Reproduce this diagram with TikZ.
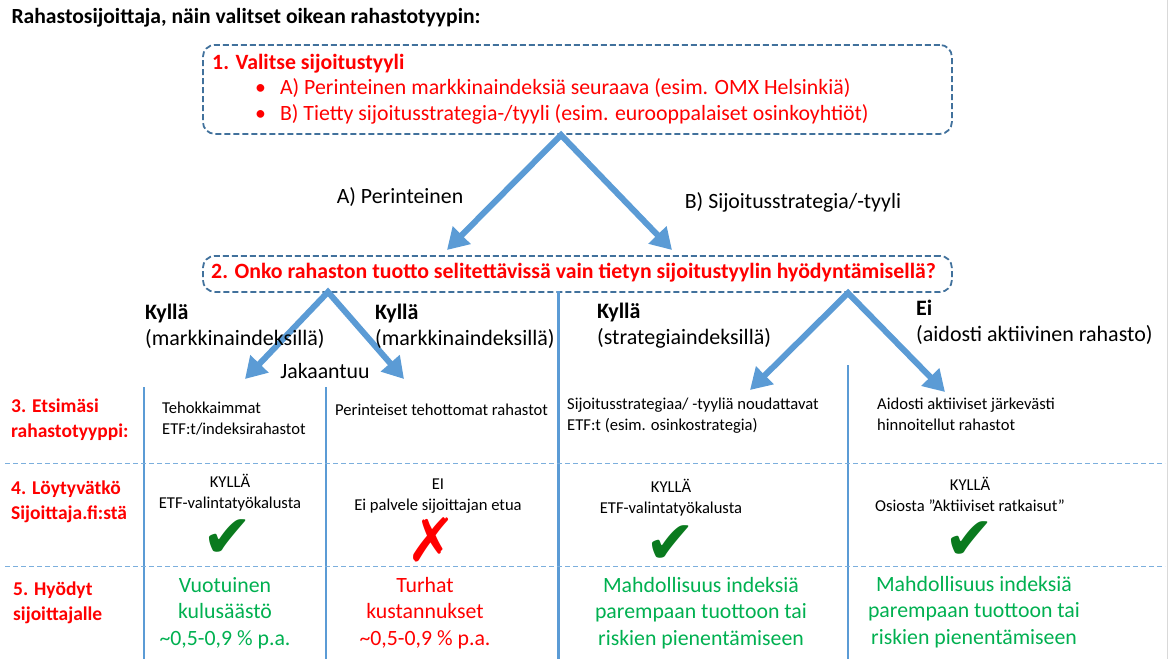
\documentclass[tikz,border=0pt]{standalone}
\usepackage{fontspec}
\setmainfont{Carlito}
\newfontfamily\symfont{DejaVu Sans}
\usepackage{tikz}
\usetikzlibrary{shapes, arrows.meta, positioning}
\definecolor{boxblue}{HTML}{41719C}
\definecolor{arrowblue}{HTML}{5B9BD5}
\definecolor{titlered}{HTML}{FF0000}
\definecolor{gaingreen}{HTML}{00B050}
\definecolor{checkgreen}{HTML}{0A7A1E}

\begin{document}
\begin{tikzpicture}[x=1pt, y=-1pt]
        \tikzstyle{stepbox} = [draw=boxblue, dash pattern=on 6pt off 3pt, line width=1.8pt, rounded corners=12pt, anchor=north west, minimum width=749pt]
        \tikzstyle{heading} = [anchor=west, inner sep=0pt, text=titlered, font=\bfseries\fontsize{21.8}{23}\selectfont]
        \tikzstyle{bodytxt} = [anchor=west, inner sep=0pt, font=\fontsize{21.8}{23}\selectfont]
        \tikzstyle{answer} = [anchor=west, inner sep=0pt, align=left, font=\fontsize{22}{26}\selectfont]
        \tikzstyle{rowlabel} = [anchor=west, inner sep=0pt, align=left, text=titlered, font=\bfseries\fontsize{19.5}{25}\selectfont]
        \tikzstyle{celltxt} = [inner sep=0pt, font=\fontsize{16.6}{21}\selectfont]
        \tikzstyle{gain} = [inner sep=0pt, align=center, font=\fontsize{21.8}{26.5}\selectfont]
        \tikzstyle{tickmark} = [inner sep=0pt, font=\symfont\fontsize{60}{60}\selectfont]
        \tikzstyle{bigarrow} = [line width=6pt, draw=arrowblue, line join=miter, {Triangle[width=24pt,length=21pt]}-{Triangle[width=24pt,length=21pt]}]
        \tikzstyle{colline} = [draw=arrowblue, line width=1.5pt]
        \tikzstyle{rowline} = [draw=arrowblue!80, line width=1pt, dash pattern=on 5pt off 3pt]

        \useasboundingbox (0,0) rectangle (1173,659);
        \draw[gray!30, line width=1pt] (1167,0) -- (1167,659);

        \node (title) [anchor=west, font=\bfseries\fontsize{21.6}{22}\selectfont] at (8,18) {Rahastosijoittaja, näin valitset oikean rahastotyypin:};

        % step 1
        \node (step1) [stepbox, minimum height=89pt] at (202,44) {};
        \node (step1head) [heading] at (212,64) {1. Valitse sijoitustyyli};
        \node (optA) [bodytxt, text=titlered] at (255,88) {•\hspace{14pt}A) Perinteinen markkinaindeksiä seuraava (esim. OMX Helsinkiä)};
        \node (optB) [bodytxt, text=titlered] at (255,114) {•\hspace{14pt}B) Tietty sijoitusstrategia-/tyyli (esim. eurooppalaiset osinkoyhtiöt)};

        \coordinate (split1) at (561,135);
        \coordinate (toA) at (447,250);
        \coordinate (toB) at (672,250);
        \draw[bigarrow] (toA) -- (split1) -- (toB);
        \node (labA) [bodytxt, anchor=center] at (400,197) {A) Perinteinen};
        \node (labB) [bodytxt, anchor=center] at (793,202) {B) Sijoitusstrategia/-tyyli};

        % step 2
        \node (step2) [stepbox, minimum height=36pt] at (202,255) {};
        \node (step2head) [heading] at (211,273) {2. Onko rahaston tuotto selitettävissä vain tietyn sijoitustyylin hyödyntämisellä?};

        \coordinate (split2) at (328,292);
        \coordinate (toEff) at (245,379);
        \coordinate (toOld) at (404,379);
        \draw[bigarrow] (toEff) -- (split2) -- (toOld);
        \coordinate (split3) at (848,293);
        \coordinate (toStrat) at (750,390);
        \coordinate (toActive) at (945,392);
        \draw[bigarrow] (toStrat) -- (split3) -- (toActive);

        \node (yes1) [answer] at (145,326) {\textbf{Kyllä}\\(markkinaindeksillä)};
        \node (yes2) [answer] at (375,326) {\textbf{Kyllä}\\(markkinaindeksillä)};
        \node (split) [bodytxt, anchor=center] at (325,371) {Jakaantuu};
        \node (yes3) [answer] at (597,326) {\textbf{Kyllä}\\(strategiaindeksillä)};
        \node (no) [answer] at (916,322) {\textbf{Ei}\\(aidosti aktiivinen rahasto)};

        % grid
        \coordinate (midtop) at (558,291);
        \coordinate (midbot) at (558,659);
        \draw[draw=arrowblue, line width=3pt] (midtop) -- (midbot);
        \coordinate (c1top) at (144,387);
        \coordinate (c1bot) at (144,659);
        \coordinate (c2top) at (326,387);
        \coordinate (c2bot) at (326,659);
        \coordinate (c4top) at (848,365);
        \coordinate (c4bot) at (848,659);
        \draw[colline] (c1top) -- (c1bot);
        \draw[colline] (c2top) -- (c2bot);
        \draw[colline] (c4top) -- (c4bot);
        \coordinate (r1left) at (5,463);
        \coordinate (r1right) at (1165,463);
        \coordinate (r2left) at (5,566);
        \coordinate (r2right) at (1165,566);
        \draw[rowline] (r1left) -- (r1right);
        \draw[rowline] (r2left) -- (r2right);

        % rows
        \node (row3) [rowlabel] at (11,420) {3. Etsimäsi\\rahastotyyppi:};
        \node (row4) [rowlabel] at (11,502) {4. Löytyvätkö\\Sijoittaja.fi:stä};
        \node (row5) [rowlabel] at (13,603) {5. Hyödyt\\sijoittajalle};

        \node (type1) [celltxt, anchor=west, align=left] at (162,419) {Tehokkaimmat\\ETF:t/indeksirahastot};
        \node (type2) [celltxt, anchor=west] at (335,410) {Perinteiset tehottomat rahastot};
        \node (type3) [celltxt, anchor=west, align=left] at (567,416) {Sijoitusstrategiaa/ -tyyliä noudattavat\\ETF:t (esim. osinkostrategia)};
        \node (type4) [celltxt, anchor=west, align=left] at (877,414) {Aidosti aktiiviset järkevästi\\hinnoitellut rahastot};

        \node (find1) [celltxt, align=center] at (230,493) {KYLLÄ\\ETF-valintatyökalusta};
        \node (find2) [celltxt, align=center] at (438,496) {EI\\Ei palvele sijoittajan etua};
        \node (find3) [celltxt, align=center] at (671,498) {KYLLÄ\\ETF-valintatyökalusta};
        \node (find4) [celltxt, align=center] at (970,494) {KYLLÄ\\Osiosta ”Aktiiviset ratkaisut”};

        \node (ok1) [tickmark, text=checkgreen] at (228,539) {✔};
        \node (nok2) [tickmark, text=titlered] at (432,540) {✗};
        \node (ok3) [tickmark, text=checkgreen] at (671,545) {✔};
        \node (ok4) [tickmark, text=checkgreen] at (970,541) {✔};

        \node (gain1) [gain, text=gaingreen] at (225,613) {Vuotuinen\\kulusäästö\\\textasciitilde0,5-0,9 \% p.a.};
        \node (gain2) [gain, text=titlered] at (425,613) {Turhat\\kustannukset\\\textasciitilde0,5-0,9 \% p.a.};
        \node (gain3) [gain, text=gaingreen] at (701,613) {Mahdollisuus indeksiä\\parempaan tuottoon tai\\riskien pienentämiseen};
        \node (gain4) [gain, text=gaingreen] at (974,612) {Mahdollisuus indeksiä\\parempaan tuottoon tai\\riskien pienentämiseen};

    \end{tikzpicture}
\end{document}
